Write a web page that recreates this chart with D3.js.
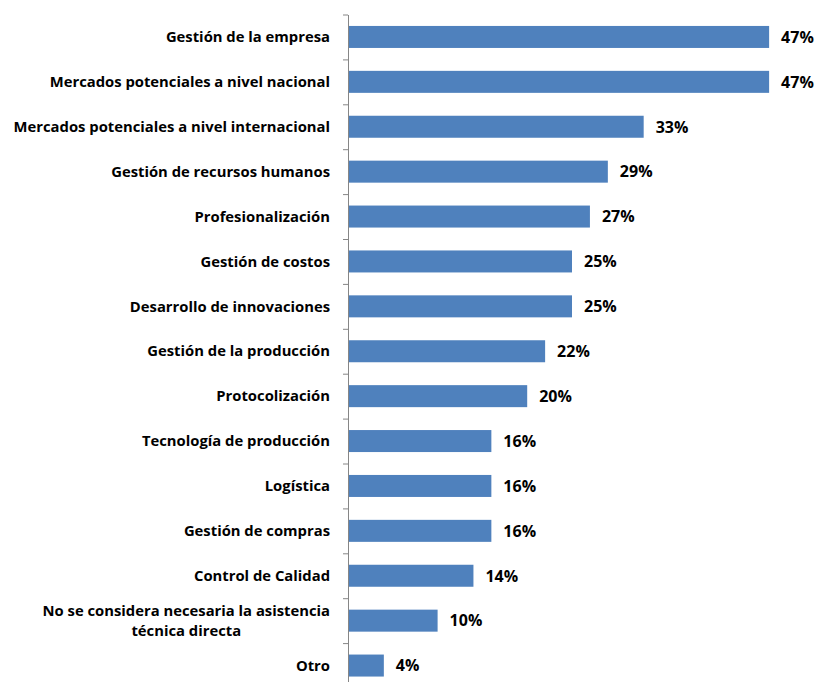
<!DOCTYPE html>
<html>
<head>
<meta charset="utf-8">
<script src="https://cdn.jsdelivr.net/npm/d3@7"></script>
<style>
  html, body { margin: 0; padding: 0; background: #fff; }
  svg { display: block; font-family: "Open Sans", Lato, sans-serif; }
</style>
</head>
<body>
<svg id="chart" width="818" height="682"></svg>
<script>
// Áreas de asistencia técnica requeridas (% de empresas)
const categories = [
  "Gestión de la empresa",
  "Mercados potenciales a nivel nacional",
  "Mercados potenciales a nivel internacional",
  "Gestión de recursos humanos",
  "Profesionalización",
  "Gestión de costos",
  "Desarrollo de innovaciones",
  "Gestión de la producción",
  "Protocolización",
  "Tecnología de producción",
  "Logística",
  "Gestión de compras",
  "Control de Calidad",
  "No se considera necesaria la asistencia\ntécnica directa",
  "Otro"
];
const values = [47, 47, 33, 29, 27, 25, 25, 22, 20, 16, 16, 16, 14, 10, 4];

const svg = d3.select("#chart");

const axisX = 348;
const plotTop = 14.5, plotBottom = 688;

const x = d3.scaleLinear().domain([0, 50]).range([axisX, axisX + 448]);

const y = d3.scaleBand()
  .domain(categories)
  .range([plotTop, plotBottom])
  .paddingInner(0.51)
  .paddingOuter(0.255);

// category boundaries for the tick marks on the vertical axis
const edges = d3.scaleLinear().domain([0, categories.length]).range([plotTop, plotBottom]);

svg.append("g")
  .selectAll("rect")
  .data(values)
  .join("rect")
  .attr("x", x(0))
  .attr("y", (d, i) => y(categories[i]))
  .attr("width", d => x(d) - x(0))
  .attr("height", y.bandwidth())
  .attr("fill", "#4F81BD");

const axis = svg.append("g")
  .attr("transform", `translate(${axisX},0)`)
  .call(d3.axisLeft(edges)
    .tickValues(d3.range(0, categories.length + 1))
    .tickFormat("")
    .tickSize(5)
    .tickSizeOuter(0));
axis.select(".domain").attr("stroke", "#868686");
axis.selectAll(".tick line").attr("stroke", "#868686");

// category labels, right-aligned; wrapped lines centred on each other
const labelRight = 330;
const lineH = 20;
svg.append("g")
  .selectAll("text")
  .data(categories)
  .join("text")
  .attr("font-size", 14.8)
  .attr("font-weight", "bold")
  .attr("fill", "#000")
  .each(function (c) {
    const t = d3.select(this);
    const lines = c.split("\n");
    const cy = y(c) + y.bandwidth() / 2;
    const y0 = cy - (lines.length - 1) * lineH / 2;
    const spans = lines.map((ln, k) =>
      t.append("tspan").attr("y", y0 + k * lineH).attr("dy", "0.35em").text(ln));
    const widths = spans.map(s => s.node().getComputedTextLength());
    const maxW = d3.max(widths);
    const cx = labelRight - maxW / 2;
    spans.forEach(s => s.attr("x", cx).attr("text-anchor", "middle"));
  });

// value labels
svg.append("g")
  .selectAll("text")
  .data(values)
  .join("text")
  .attr("x", d => x(d) + 12)
  .attr("y", (d, i) => y(categories[i]) + y.bandwidth() / 2)
  .attr("dy", "0.36em")
  .attr("font-size", 16)
  .attr("font-weight", "bold")
  .attr("fill", "#000")
  .text(d => d + "%");
</script>
</body>
</html>
